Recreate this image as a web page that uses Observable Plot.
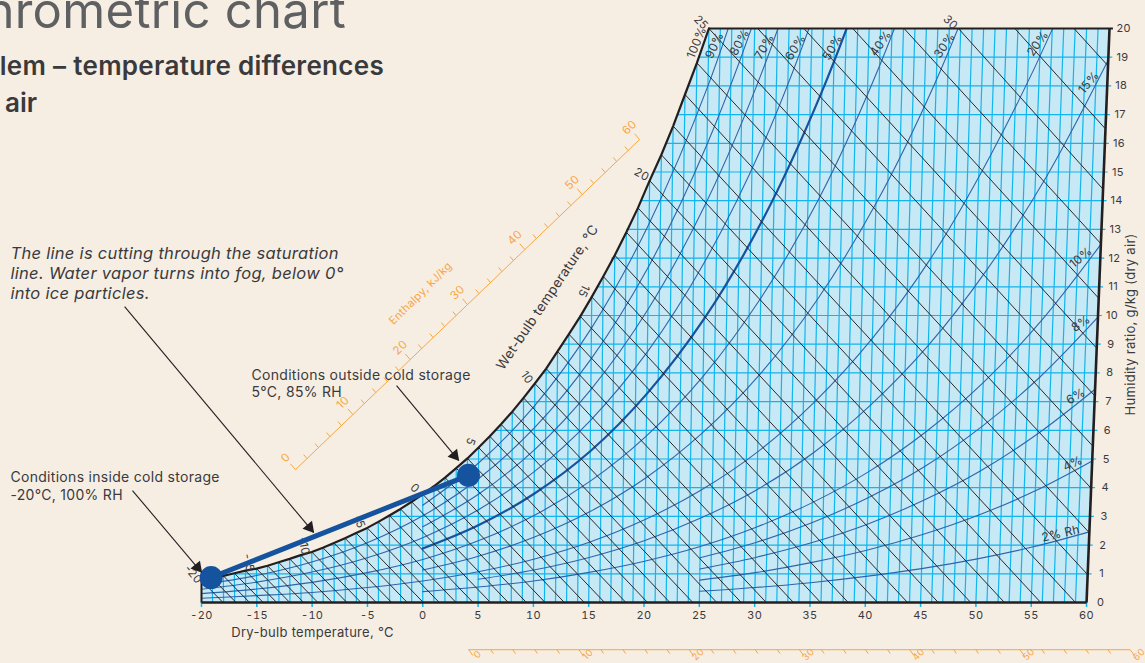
<!DOCTYPE html>
<html>
<head>
<meta charset="utf-8">
<script src="https://cdn.jsdelivr.net/npm/d3@7"></script>
<script src="https://cdn.jsdelivr.net/npm/@observablehq/plot@0.6"></script>
<style>
html,body{margin:0;padding:0;background:#f6eee3;width:1145px;height:663px;overflow:hidden;position:relative}
.t{position:absolute;white-space:nowrap;font-family:Inter,sans-serif}
#chart{position:absolute;left:0;top:0}
</style>
</head>
<body>
<div id="chart"></div>
<div class="t" style="right:799px;top:-17px;font-size:49px;line-height:56px;color:#5f6062;font-weight:400;letter-spacing:.3px">hrometric chart</div>
<div class="t" style="right:761px;top:50px;font-size:26px;line-height:32px;color:#3a3a3c;font-weight:600;letter-spacing:.3px">lem – temperature differences</div>
<div class="t" style="left:5px;top:87px;font-size:26px;line-height:32px;color:#3a3a3c;font-weight:600">air</div>
<script>
// Saturation curve, 1 °C steps
const satT = [-20,-19,-18,-17,-16,-15,-14,-13,-12,-11,-10,-9,-8,-7,-6,-5,-4,-3,-2,-1,0,1,2,3,4,5,6,7,8,9,10,11,12,13,14,15,16,17,18,19,20,21,22,23,24,25];
const satW = [0.77,0.84,0.93,1.02,1.11,1.18,1.28,1.40,1.52,1.65,1.76,1.91,2.07,2.24,2.42,2.60,2.81,3.03,3.26,3.51,3.77,4.05,4.35,4.68,5.02,5.40,5.79,6.21,6.65,7.13,7.63,8.15,8.75,9.35,9.97,10.65,11.36,12.10,12.90,13.75,14.70,15.6,16.6,17.7,18.8,20.0];

// Relative-humidity curves
const tFull = [-20,-15,-10,-5,0,5,10,15,20,25,30,35,40,45,50,55,60];
const tZero = [0,5,10,15,20,25,30,35,40,45,50,55,60];
const tFive = [5,10,15,20,25,30,35,40,45,50,55,60];
const tWarm = [25,30,35,40,45,50,55,60];
const rh90 = [3.39,4.86,6.86,9.56,13.2,18.0,24.4];
const rh80 = [0.62,0.94,1.41,2.08,3.02,4.31,6.09,8.49,11.7,15.96,21.6,28.9];
const rh70 = [2.64,3.77,5.32,7.42,10.21,13.92,18.8,25.2];
const rh60 = [0.46,0.71,1.06,1.56,2.26,3.23,4.56,6.35,8.73,11.89,16.03,21.5,28.4];
const rh50 = [1.88,2.69,3.79,5.27,7.27,9.88,13.31,17.8,23.5];
const rh40 = [0.31,0.47,0.70,1.04,1.50,2.15,3.03,4.22,5.80,7.88,10.6,14.1,18.7,24.5];
const rh30 = [1.13,1.61,2.27,3.16,4.34,5.90,7.92,10.54,13.9,18.2,23.6];
const rh20 = [0.15,0.24,0.35,0.52,0.75,1.07,1.51,2.10,2.89,3.92,5.25,6.99,9.2,12.0,15.6,19.97,25.5];
const rh15 = [0.81,1.13,1.57,2.16,2.94,3.93,5.22,6.88,8.96,11.6,14.86,18.9];
const rh10 = [0.38,0.54,0.75,1.05,1.44,1.95,2.62,3.48,4.56,5.94,7.66,9.83,12.48];
const rh8 = [1.56,2.09,2.78,3.65,4.74,6.13,7.84,9.94];
const rh6 = [1.17,1.57,2.08,2.73,3.56,4.58,5.87,7.43];
const rh4 = [0.78,1.04,1.39,1.82,2.37,3.05,3.89,4.93];
const rh2 = [0.39,0.52,0.69,0.91,1.18,1.52,1.94,2.46];
const rhThin = [[tZero,rh90],[tFull,rh80],[tZero,rh70],[tFull,rh60],[tFull,rh40],[tZero,rh30],[tFull,rh20],[tFive,rh15],[tZero,rh10],[tWarm,rh8],[tWarm,rh6],[tWarm,rh4],[tWarm,rh2]];

const rhLabels = ["100%","90%","80%","70%","60%","50%","40%","30%","20%","15%","10%","8%","6%","4%","2% Rh"];
const rhLabelX = [24.76,26.38,28.65,30.9,33.7,37.05,41.39,47.18,55.59,60.2,59.48,59.48,59.03,58.75,57.67];
const rhLabelW = [19.51,19.41,19.51,19.37,19.34,19.34,19.48,19.41,19.48,18.12,12.02,9.72,7.18,4.84,2.40];
const rhLabelAngle = [-68,-65,-62,-60,-58,-60,-55,-55,-55,-50,-40,-35,-30,-25,-13];

// Wet-bulb lines, 1 °C steps: start and end of each line
const wbStartT = [...satT,29.26,33.3,37.57,42.05,46.8,51.73,56.9];
const wbStartW = [...satW,20,20,20,20,20,20,20];
const wbEndT = [-18.05,-16.87,-15.65,-14.42,-13.2,-12.02,-10.77,-9.48,-8.18,-6.86,-5.58,-4.21,-2.81,-1.40,0.05,1.49,3.01,4.55,6.12,7.73,9.37,11.06,12.80,14.60,16.44,18.36,20.32,22.34,24.41,26.58,28.79,31.05,33.51,35.97,38.46,41.11,43.82,46.6,49.53,52.58,55.86,59.0,60,60,60,60,60,60,60,60,60,60,60];
const wbEndW = [0,0,0,0,0,0,0,0,0,0,0,0,0,0,0,0,0,0,0,0,0,0,0,0,0,0,0,0,0,0,0,0,0,0,0,0,0,0,0,0,0,0,0.97,2.43,3.98,5.45,7.2,8.86,10.6,12.5,14.4,16.5,18.7];

const wbLabelT = [-20,-15,-10,-5,0,5,10,15,20,25,30];
const wbLabelAt = [-20,-15,-10,-5,0,5,10,15,20,25,46.8];
const wbLabelW = [0.77,1.18,1.76,2.60,3.77,5.40,7.63,10.65,14.70,20,20];
const wbLabelAngle = [50,80,80,70,45,110,55,115,30,45,45];

// Grid
const dryT = [-19,-18,-17,-16,-15,-14,-13,-12,-11,-10,-9,-8,-7,-6,-5,-4,-3,-2,-1,0,1,2,3,4,5,6,7,8,9,10,11,12,13,14,15,16,17,18,19,20,21,22,23,24,25,26,27,28,29,30,31,32,33,34,35,36,37,38,39,40,41,42,43,44,45,46,47,48,49,50,51,52,53,54,55,56,57,58,59];
const gridW = [1,2,3,4,5,6,7,8,9,10,11,12,13,14,15,16,17,18,19];
const gridStartT = [-17.2,-8.4,-3.1,0.8,3.9,6.5,8.7,10.7,12.4,13.9,15.5,16.7,18,19.3,20.3,21.4,22.4,23.3,24.1];
const xTicks = [-20,-15,-10,-5,0,5,10,15,20,25,30,35,40,45,50,55,60];
const wTicks = [0,1,2,3,4,5,6,7,8,9,10,11,12,13,14,15,16,17,18,19,20];

// Process line
const procT = [-19.1,4.1];
const procW = [0.87,4.43];

// Enthalpy scales
const hMinor = [0,2,4,6,8,10,12,14,16,18,20,22,24,26,28,30,32,34,36,38,40,42,44,46,48,50,52,54,56,58,60];
const hMajor = [0,10,20,30,40,50,60];
const hAx = {x0:-11.5,xs:0.5183,w0:4.63,ws:0.1917};
const hBx = {x0:4.14,xs:0.9965,w:-1.64};

// Annotations
const noteText = ["The line is cutting through the saturation","line. Water vapor turns into fog, below 0°","into ice particles.","Conditions outside cold storage","5°C, 85% RH","Conditions inside cold storage","-20°C, 100% RH"];
const noteX = [-37.27,-37.27,-37.27,-15.48,-15.48,-37.27,-37.27];
const noteW = [12.16,11.46,10.77,7.91,7.32,4.36,3.73];
const noteItalic = [true,true,true,false,false,false,false];
const arrowX1 = [-26.95,-2.37,-26.24], arrowW1 = [10.31,7.56,3.90];
const arrowX2 = [-9.87,3.24,-20.0], arrowW2 = [2.44,4.95,1.05];

const SKEW = 0.00173;
const flat = (t,w) => t*(1+SKEW*w);

const FILL="#c7e8f5",GRID="#12b5ee",RH="#2b66ad",RHB="#16539f",INK="#231f20",TXT="#3a3a3c",OR="#f7a63f",FONT="Inter, sans-serif";

const sat = satT.map((t,i)=>({t,w:satW[i]}));
const polygon = [...sat,{t:60,w:20},{t:60,w:0},{t:-20,w:0}];
const vert = dryT.map(t=>{const i=satT.indexOf(t);return {t,top:i>=0?satW[i]:20}});
const horiz = gridW.map((w,i)=>({w,s:gridStartT[i]}));
const rhRows = rhThin.flatMap(([ts,ws],k)=>ws.map((w,i)=>({k,t:ts[i],w})));
const rh50Rows = rh50.map((w,i)=>({t:tZero[i],w}));
const wb = wbStartT.map((t,i)=>({t,w:wbStartW[i],te:wbEndT[i],we:wbEndW[i]}));
const proc = procT.map((t,i)=>({t,w:procW[i]}));
const arrows = arrowX1.map((x,i)=>({x1:x,w1:arrowW1[i],x2:arrowX2[i],w2:arrowW2[i]}));
const notes = noteText.map((text,i)=>({text,x:noteX[i],w:noteW[i],it:noteItalic[i]}));

const fx = d=>flat(d.t,d.w), fy = d=>d.w;

const plot = Plot.plot({
  width:1145,height:663,
  marginLeft:201,marginRight:36.5,marginTop:28,marginBottom:61,
  x:{domain:[-20,62.03],axis:null},
  y:{domain:[0,20],axis:null},
  style:{background:"transparent",fontFamily:FONT,overflow:"hidden",letterSpacing:"0.3px"},
  marks:[
    Plot.line(polygon,{x:fx,y:fy,fill:FILL,stroke:"none"}),
    Plot.link(vert,{x1:d=>flat(d.t,0),y1:d=>0,x2:d=>flat(d.t,d.top),y2:d=>d.top,stroke:GRID,strokeWidth:1.2}),
    Plot.link(horiz,{x1:d=>flat(d.s,d.w),y1:d=>d.w,x2:d=>flat(60.35,d.w),y2:d=>d.w,stroke:GRID,strokeWidth:1.2}),
    Plot.axisX(xTicks,{anchor:"bottom",tickSize:5,tickPadding:4,stroke:GRID,strokeWidth:1.5,fill:TXT,fontSize:11,tickFormat:d=>String(d),label:null}),
    Plot.line(rhRows,{x:fx,y:fy,z:"k",stroke:RH,strokeWidth:1.1,curve:"catmull-rom",clip:true}),
    Plot.line(rh50Rows,{x:fx,y:fy,stroke:RHB,strokeWidth:2.2,curve:"catmull-rom",clip:true}),
    Plot.link(wb,{x1:fx,y1:fy,x2:d=>flat(d.te,d.we),y2:"we",stroke:INK,strokeWidth:0.95}),
    Plot.line(sat,{x:fx,y:fy,stroke:INK,strokeWidth:2.2}),
    Plot.link([0],{x1:()=>-20,y1:()=>0,x2:()=>flat(60,0),y2:()=>0,stroke:INK,strokeWidth:2.6}),
    Plot.link([0],{x1:()=>flat(60,0),y1:()=>0,x2:()=>flat(60,20),y2:()=>20,stroke:INK,strokeWidth:2.6}),
    Plot.link([0],{x1:()=>-20,y1:()=>0,x2:()=>-20,y2:()=>satW[0],stroke:INK,strokeWidth:2}),
    Plot.link([0],{x1:()=>flat(25,20),y1:()=>20,x2:()=>flat(60.3,20),y2:()=>20,stroke:INK,strokeWidth:2}),
    // right axis
    Plot.text(wTicks,{x:w=>flat(60,w),y:w=>w,text:w=>String(w),dx:14,fill:TXT,fontSize:11}),
    Plot.text(["Humidity ratio, g/kg (dry air)"],{x:()=>64,y:()=>9.69,text:d=>d,rotate:-90,fill:TXT,fontSize:13}),
    Plot.text(["Dry-bulb temperature, °C"],{x:()=>-9.96,y:()=>-1.05,text:d=>d,fill:TXT,fontSize:13}),
    // RH labels
    Plot.text(rhLabels,{x:(d,i)=>rhLabelX[i],y:(d,i)=>rhLabelW[i],text:d=>d,rotate:(d,i)=>rhLabelAngle[i],fill:TXT,fontSize:12}),
    // wet-bulb labels
    Plot.text(wbLabelT,{x:(d,i)=>flat(wbLabelAt[i],wbLabelW[i]),y:(d,i)=>wbLabelW[i],text:d=>String(d),rotate:(d,i)=>wbLabelAngle[i],dx:-8,dy:-6,fill:TXT,fontSize:11.5}),
    Plot.text(["Wet-bulb temperature, °C"],{x:()=>11.28,y:()=>10.63,text:d=>d,rotate:-56,fill:TXT,fontSize:13.5}),
    // oblique enthalpy scale
    Plot.link([0],{x1:()=>hAx.x0,y1:()=>hAx.w0,x2:()=>hAx.x0+60*hAx.xs,y2:()=>hAx.w0+60*hAx.ws,stroke:OR,strokeWidth:1}),
    Plot.link(hMinor,{x1:h=>hAx.x0+h*hAx.xs,y1:h=>hAx.w0+h*hAx.ws,x2:h=>hAx.x0+h*hAx.xs-(h%10?0.3:0.45),y2:h=>hAx.w0+h*hAx.ws+(h%10?0.14:0.2),stroke:OR,strokeWidth:1}),
    Plot.text(hMajor,{x:h=>hAx.x0+h*hAx.xs,y:h=>hAx.w0+h*hAx.ws,text:h=>String(h),dx:-10,dy:-12,rotate:-44,fill:OR,fontSize:11.5}),
    Plot.text(["Enthalpy, kJ/kg"],{x:()=>-0.2,y:()=>10.77,text:d=>d,rotate:-45,fill:OR,fontSize:11}),
    // bottom enthalpy scale
    Plot.link([0],{x1:()=>hBx.x0,y1:()=>hBx.w,x2:()=>hBx.x0+60*hBx.xs,y2:()=>hBx.w,stroke:OR,strokeOpacity:0.8,strokeWidth:1.3}),
    Plot.link(hMinor,{x1:h=>hBx.x0+h*hBx.xs,y1:()=>hBx.w,x2:h=>hBx.x0+h*hBx.xs+(h%10?0.25:0.4),y2:h=>hBx.w-(h%10?0.14:0.21),stroke:OR,strokeWidth:1}),
    Plot.text(hMajor,{x:h=>hBx.x0+h*hBx.xs,y:()=>hBx.w,text:h=>String(h),dx:9,dy:5,rotate:-45,fill:OR,fontSize:9.5}),
    // process line
    Plot.line(proc,{x:fx,y:fy,stroke:RHB,strokeWidth:5}),
    Plot.dot(proc,{x:fx,y:fy,r:11.5,fill:RHB,stroke:"none"}),
    // annotations
    Plot.link(arrows,{x1:"x1",y1:"w1",x2:"x2",y2:"w2",stroke:INK,strokeWidth:1.1}),
    Plot.dot(arrows,{x:"x2",y:"w2",symbol:"triangle",r:4.6,rotate:140,dx:-4,dy:-5,fill:INK,stroke:"none"}),
    Plot.text(notes.filter(d=>d.it),{x:"x",y:"w",text:"text",textAnchor:"start",fontStyle:"italic",fill:TXT,fontSize:16.5}),
    Plot.text(notes.filter(d=>!d.it),{x:"x",y:"w",text:"text",textAnchor:"start",fill:TXT,fontSize:14})
  ]
});
document.getElementById("chart").append(plot);
</script>
</body>
</html>
